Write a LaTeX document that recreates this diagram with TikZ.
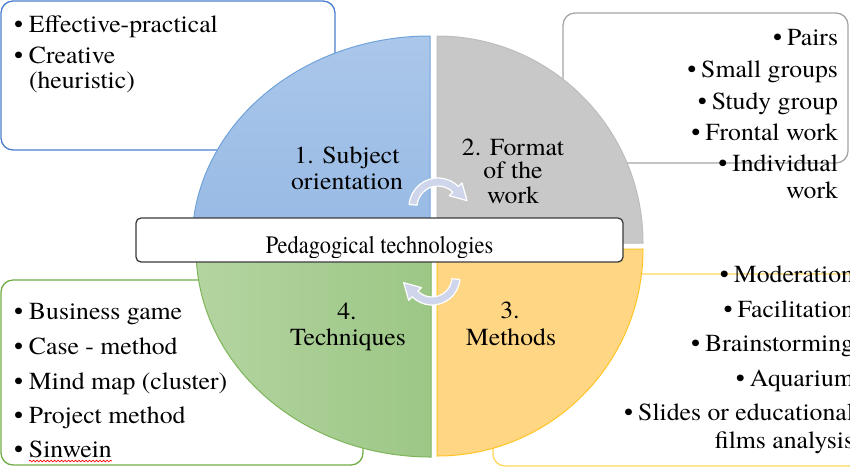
\documentclass[tikz,border=0pt]{standalone}
\usepackage{fontspec}
\setmainfont{TeX Gyre Termes}[FakeStretch=1.05]
\newfontfamily\centerfont{TeX Gyre Termes}
\usetikzlibrary{decorations.pathmorphing}
\definecolor{bxblue}{HTML}{4A7FD0}
\definecolor{bxgray}{HTML}{A5A5A5}
\definecolor{bxgreen}{HTML}{70AD47}
\definecolor{bxorange}{HTML}{FFD75E}
\definecolor{qbluetop}{HTML}{ABC7EA}
\definecolor{qbluebot}{HTML}{96B9E4}
\definecolor{qblueline}{HTML}{6FA3DC}
\definecolor{qgray}{HTML}{C8C8C8}
\definecolor{qgrayline}{HTML}{BDBDBD}
\definecolor{qgreenl}{HTML}{B4D4A0}
\definecolor{qgreenr}{HTML}{9CC786}
\definecolor{qgreenline}{HTML}{7DB55A}
\definecolor{qorange}{HTML}{FFD683}
\definecolor{qorangeline}{HTML}{FFC524}
\definecolor{arrowfill}{HTML}{CFD5EA}
\definecolor{centerline}{HTML}{3A3A3A}
\newcommand{\bulmark}{\makebox[15pt][l]{•}}
\newcommand{\rbulmark}{•\hspace{5pt}}
\begin{document}
\begin{tikzpicture}[x=1pt,y=1pt,
  every node/.style={inner sep=0pt, outer sep=0pt},
  txt/.style={font=\fontsize{24.5}{28}\selectfont},
  ctxt/.style={font=\centerfont\fontsize{22.4}{27}\selectfont},
  listbox/.style={fill=white, rounded corners=12pt, line width=1.3pt},
  quad/.style={line width=1pt},
  turnarrow/.style={fill=arrowfill, draw=white, line width=1.2pt, line join=round}]
\clip (0,0) rectangle (850,-467);
\useasboundingbox (0,0) rectangle (850,-467);

% list boxes
\draw[listbox, draw=bxblue] (1,-1) rectangle (335,-150);
\draw[listbox, draw=bxgray] (563,-13) rectangle (848,-163);
\draw[listbox, draw=bxgreen] (1,-280) rectangle (363,-465);
\draw[listbox, draw=bxorange] (493,-274) rectangle (890,-466);

% quadrants
\draw[quad, draw=qblueline, top color=qbluetop, bottom color=qbluebot]
  (430,-243) -- (430,-36) arc[start angle=90, end angle=180, x radius=238pt, y radius=207pt] -- cycle;
\draw[quad, draw=qgrayline, fill=qgray]
  (437,-243) -- (643,-243) arc[start angle=0, end angle=90, x radius=206pt, y radius=207pt] -- cycle;
\draw[quad, draw=qgreenline, left color=qgreenl, right color=qgreenr]
  (431,-249) -- (196,-249) arc[start angle=180, end angle=270, x radius=235pt, y radius=208pt] -- cycle;
\draw[quad, draw=qorangeline, fill=qorange]
  (437,-249) -- (437,-456) arc[start angle=270, end angle=360, x radius=206pt, y radius=207pt] -- cycle;

% centre box
\node[draw=centerline, fill=white, line width=1.3pt, rounded corners=5pt,
  minimum width=487pt, minimum height=44pt] (centerbox) at (379.5,-240) {};
\begin{scope}
  \clip (136,-218) rectangle (623,-257.5);
  \node[ctxt, anchor=base] (ped) at (379.5,-253) {\scalebox{1}[1.12]{Pedagogical technologies}};
\end{scope}

% turning arrows
\coordinate (ca) at (438,-207);
\coordinate (cb) at (432,-277);
\draw[turnarrow]
  ([shift={(ca)}]175:29pt) arc[start angle=175, end angle=45, radius=29pt]
  -- ([shift={(ca)}]45:34pt) -- (467,-200.6) -- ([shift={(ca)}]45:16pt)
  -- ([shift={(ca)}]45:21pt) arc[start angle=45, end angle=175, radius=21pt] -- cycle;
\draw[turnarrow]
  ([shift={(cb)}]-5:28pt) arc[start angle=-5, end angle=-135, radius=28pt]
  -- ([shift={(cb)}]-135:33pt) -- (403.7,-282.7) -- ([shift={(cb)}]-135:15pt)
  -- ([shift={(cb)}]-135:20pt) arc[start angle=-135, end angle=-5, radius=20pt] -- cycle;

% quadrant labels
\node[txt, anchor=base] (q1a) at (347,-163) {1. Subject};
\node[txt, anchor=base] (q1b) at (347,-189) {orientation};
\node[txt, anchor=base] (q2a) at (513,-155) {2. Format};
\node[txt, anchor=base] (q2b) at (513,-178) {of the};
\node[txt, anchor=base] (q2c) at (513,-203) {work};
\node[txt, anchor=base] (q4a) at (347,-319) {4.};
\node[txt, anchor=base] (q4b) at (348,-345) {Techniques};
\node[txt, anchor=base] (q3a) at (510,-318) {3.};
\node[txt, anchor=base] (q3b) at (511,-345) {Methods};

% top-left list
\node[txt, anchor=base west] (tl1) at (14,-32) {\bulmark Effective-practical};
\node[txt, anchor=base west] (tl2) at (14,-63) {\bulmark Creative};
\node[txt, anchor=base west] (tl3) at (29,-88) {(heuristic)};

% top-right list
\node[txt, anchor=base east] (tr1) at (838,-45) {\rbulmark Pairs};
\node[txt, anchor=base east] (tr2) at (838,-77) {\rbulmark Small groups};
\node[txt, anchor=base east] (tr3) at (838,-109) {\rbulmark Study group};
\node[txt, anchor=base east] (tr4) at (838,-140) {\rbulmark Frontal work};
\node[txt, anchor=base east] (tr5) at (838,-171) {\rbulmark Individual};
\node[txt, anchor=base east] (tr6) at (838,-198) {work};

% bottom-left list
\node[txt, anchor=base west] (bl1) at (14,-319) {\bulmark Business game};
\node[txt, anchor=base west] (bl2) at (14,-354) {\bulmark Case - method};
\node[txt, anchor=base west] (bl3) at (14,-389) {\bulmark Mind map (cluster)};
\node[txt, anchor=base west] (bl4) at (14,-423) {\bulmark Project method};
\node[txt, anchor=base west] (bl5) at (14,-457) {\bulmark Sinwein};
\draw[red, line width=0.7pt, decorate, decoration={snake, amplitude=0.8pt, segment length=3.5pt}]
  ([xshift=15pt, yshift=-4pt]bl5.base west) -- ([yshift=-4pt]bl5.base east);

% bottom-right list
\node[txt, anchor=base east] (br1) at (854,-282) {\rbulmark Moderation};
\node[txt, anchor=base east] (br2) at (854,-317) {\rbulmark Facilitation};
\node[txt, anchor=base east] (br3) at (854,-351) {\rbulmark Brainstorming};
\node[txt, anchor=base east] (br4) at (854,-386) {\rbulmark Aquarium};
\node[txt, anchor=base east] (br5) at (854,-420) {\rbulmark Slides or educational};
\node[txt, anchor=base east] (br6) at (854,-448) {films analysis};
\end{tikzpicture}
\end{document}
